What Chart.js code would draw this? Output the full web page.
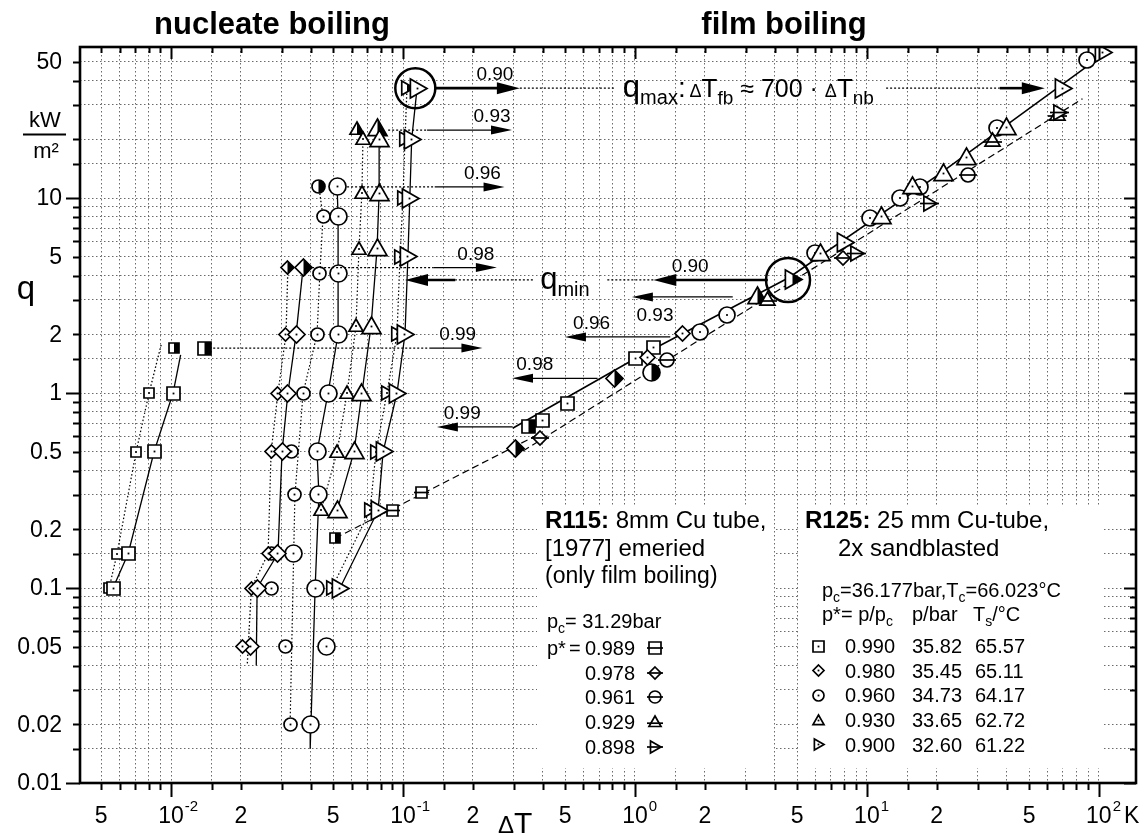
<!DOCTYPE html>
<html>
<head>
<meta charset="utf-8">
<title>R115 / R125 pool boiling</title>
<script src="https://cdn.jsdelivr.net/npm/chart.js@4.4.1/dist/chart.umd.min.js"></script>
<style>
  body { margin: 0; background: #fff; }
  #box { width: 1145px; height: 836px; }
</style>
</head>
<body>
<div id="box"><canvas id="chart"></canvas></div>
<script>
const FONT = '"Liberation Sans", Arial, sans-serif';

// axes (log-log)
const xMin = 0.00405, xMax = 144.6;
const yMin = 0.01, yMax = 59.5;
const decades = [0.001, 0.01, 0.1, 1, 10, 100];
const gridMult = [1, 1.5, 2, 3, 4, 5, 6, 7, 8, 9];
const xLabelVals = [0.005, 0.01, 0.02, 0.05, 0.1, 0.2, 0.5, 1, 2, 5, 10, 20, 50, 100];
const xLabelText = ['5', '10^-2', '2', '5', '10^-1', '2', '5', '10^0', '2', '5', '10^1', '2', '5', '10^2'];
const yLabelVals = [0.01, 0.02, 0.05, 0.1, 0.2, 0.5, 1, 2, 5, 10, 50];
const yLabelText = ['0.01', '0.02', '0.05', '0.1', '0.2', '0.5', '1', '2', '5', '10', '50'];

// nucleate boiling R125: runs on solid lines (large symbols) and dotted lines (small symbols)
const sqSolidDT = [0.00562, 0.00653, 0.00845, 0.0102];
const sqSolidQ = [0.1, 0.15, 0.5, 1.0];
const sqDotDT = [0.00541, 0.00585, 0.00707, 0.00804];
const sqDotQ = [0.1, 0.15, 0.5, 1.0];
const diaSolidDT = [0.0235, 0.0289, 0.0301, 0.0319, 0.0346];
const diaSolidQ = [0.1, 0.15, 0.5, 1, 2];
const diaDotDT = [0.0222, 0.0262, 0.0270, 0.0289, 0.0313];
const diaDotQ = [0.1, 0.15, 0.5, 1, 2];
const cirSolidDT = [0.0401, 0.0418, 0.0434, 0.0426, 0.0475, 0.0525, 0.0525, 0.0525, 0.0520];
const cirSolidQ = [0.02, 0.1, 0.3, 0.5, 1, 2, 4.1, 8, 11.4];
const cirDotDT = [0.0326, 0.0342, 0.0371, 0.0426, 0.0438, 0.0452];
const cirDotQ = [0.02, 0.3, 1, 2, 4.1, 8];
const triSolidDT = [0.0520, 0.0615, 0.0665, 0.0728, 0.0773, 0.0789, 0.0789];
const triSolidQ = [0.25, 0.5, 1, 2.2, 5.5, 10.6, 20];
const triDotDT = [0.0443, 0.0520, 0.0574, 0.0627, 0.0646, 0.0665, 0.0672];
const triDotQ = [0.25, 0.5, 1, 2.2, 5.5, 10.6, 20];
const rtSolidDT = [0.0535, 0.0781, 0.0821, 0.0942, 0.102, 0.105, 0.107, 0.109, 0.115];
const rtSolidQ = [0.1, 0.25, 0.5, 1, 2, 5, 10, 20, 36.6];
const rtDotDT = [0.0494, 0.0721, 0.0765, 0.0853, 0.0942, 0.0971, 0.100, 0.102];
const rtDotQ = [0.1, 0.25, 0.5, 1, 2, 5, 10, 20];

// nucleate points off the lines
const nbExtraDT = [0.0313, 0.0270, 0.0270, 0.0329, 0.0466, 0.0336, 0.0219, 0.0204];
const nbExtraQ = [0.05, 0.1, 0.15, 0.5, 0.05, 0.15, 0.05, 0.05];
const nbExtraShape = ['circle', 'circle', 'circle', 'circle', 'circle', 'circle', 'diamond', 'diamond'];
const nbExtraBig = [0, 0, 0, 0, 1, 1, 1, 0];

// half filled symbols (q_max / q_min points)
const halfDT = [0.0103, 0.0139, 0.0319, 0.0371, 0.0434, 0.0633, 0.0773, 0.104, 0.051, 0.346, 0.304, 0.82, 1.18, 3.36, 4.8];
const halfQ = [1.7, 1.7, 4.4, 4.4, 11.4, 22.6, 22.6, 36.6, 0.18, 0.67, 0.52, 1.19, 1.28, 3.11, 3.8];
const halfShape = ['square', 'square', 'diamond', 'diamond', 'circle', 'triangle', 'triangle', 'rtri',
  'square', 'square', 'diamond', 'diamond', 'circle', 'triangle', 'rtri'];
const halfBig = [0, 1, 0, 1, 0, 0, 1, 0, 0, 1, 1, 1, 1, 1, 1];

// film boiling R125
const fbDT = [0.401, 0.514, 1.01, 1.20, 1.13, 1.6, 1.91, 2.49, 5.97, 10.3, 13.9, 16.9, 36.3, 88.7,
  6.3, 11.6, 15.8, 21.3, 27, 39.8, 8.04, 70, 104];
const fbQ = [0.72, 0.88, 1.51, 1.72, 1.53, 2.03, 2.06, 2.51, 5.2, 7.9, 10, 11.4, 22.9, 51,
  5.2, 8.0, 11.4, 13.4, 16.2, 23.1, 5.94, 36.6, 55.5];
const fbShape = ['square', 'square', 'square', 'square', 'diamond', 'diamond',
  'circle', 'circle', 'circle', 'circle', 'circle', 'circle', 'circle', 'circle',
  'triangle', 'triangle', 'triangle', 'triangle', 'triangle', 'triangle', 'rtri', 'rtri', 'rtri'];

// film boiling R115 (8mm Cu tube)
const r115DT = [0.0897, 0.12, 0.39, 7.9, 1.37, 27.2, 3.71, 34.9, 66.5, 9.0, 18.7, 68];
const r115Q = [0.25, 0.31, 0.59, 4.9, 1.47, 13.1, 3.0, 19.8, 26.7, 5.2, 9.4, 27.3];
const r115Shape = ['square', 'square', 'diamond', 'diamond', 'circle', 'circle',
  'triangle', 'triangle', 'triangle', 'rtri', 'rtri', 'rtri'];

// film boiling curves
const filmLineDT = [0.297, 1.0, 4.6, 20, 111];
const filmLineQ = [0.66, 1.5, 3.9, 13, 57.4];
const r115LineDT = [0.3, 85];
const r115LineQ = [0.47, 32.3];

// short line pieces (ends of nucleate runs, lower R115 branch)
const segDT0 = [0.0102, 0.00804, 0.0235, 0.0222, 0.0346, 0.0313, 0.0401, 0.0452, 0.0789, 0.0672, 0.102, 0.051];
const segQ0 = [1.0, 1.0, 0.1, 0.1, 2, 2, 0.02, 8, 20, 20, 20, 0.18];
const segDT1 = [0.0110, 0.0091, 0.0233, 0.0213, 0.0371, 0.0319, 0.0398, 0.0434, 0.0773, 0.0633, 0.104, 0.39];
const segQ1 = [1.57, 1.8, 0.04, 0.04, 4.4, 4.4, 0.015, 11.4, 22.6, 22.6, 36.6, 0.62];
const segKind = ['s', 'd', 's', 'd', 's', 'd', 's', 'd', 's', 'd', 'd', 'h'];

// transition arrows
const arrowLabels = ['0.90', '0.93', '0.96', '0.98', '0.99'];
const qmaxQ = [36.6, 22.3, 11.4, 4.4, 1.7];
const qmaxFrom = [0.137, 0.127, 0.137, 0.135, 0.130];
const qmaxTo = [0.319, 0.295, 0.274, 0.254, 0.220];
const qmaxLead = [0, 0.0789, 0.0525, 0.0371, 0.0139];
const qmaxLabelX = [0.249, 0.242, 0.22, 0.206, 0.172];
const qminQ = [3.8, 3.11, 1.94, 1.19, 0.67];
const qminFrom = [3.74, 2.64, 1.42, 0.69, 0.297];
const qminTo = [1.2, 0.97, 0.499, 0.295, 0.14];
const qminLabelX = [1.73, 1.22, 0.65, 0.37, 0.18];
const ringDT = [0.113, 4.57];
const ringQ = [36.6, 3.8];

// legend tables
const r115Pstar = ['0.989', '0.978', '0.961', '0.929', '0.898'];
const r125Pstar = ['0.990', '0.980', '0.960', '0.930', '0.900'];
const r125P = ['35.82', '35.45', '34.73', '33.65', '32.60'];
const r125Ts = ['65.57', '65.11', '64.17', '62.72', '61.22'];
const legendShapes = ['square', 'diamond', 'circle', 'triangle', 'rtri'];

const gridVals = (lo, hi) => decades.flatMap(d => gridMult.map(m => +(m * d).toPrecision(3)))
  .filter(v => v >= lo && v <= hi);
const xGrid = gridVals(xMin, xMax);
const yGrid = gridVals(yMin, yMax);

// symbols drawn into small canvases
const SIZE_L = { square: 13, diamond: 17, circle: 17, triangle: 19, rtri: 19 };
const SIZE_S = { square: 10, diamond: 13, circle: 13, triangle: 14, rtri: 14 };
const SIZE_F = { square: 13, diamond: 15, circle: 16, triangle: 19, rtri: 19 };
const cache = {};
function marker(shape, s, mode) {
  const key = shape + s + mode;
  if (cache[key]) return cache[key];
  const c = document.createElement('canvas');
  const n = Math.ceil(s) + 6;
  c.width = c.height = n;
  const g = c.getContext('2d');
  const h = s / 2;
  g.translate(n / 2, n / 2);
  g.beginPath();
  if (shape === 'square') g.rect(-h, -h, s, s);
  else if (shape === 'circle') g.arc(0, 0, h, 0, Math.PI * 2);
  else if (shape === 'diamond') { g.moveTo(0, -h); g.lineTo(h, 0); g.lineTo(0, h); g.lineTo(-h, 0); g.closePath(); }
  else if (shape === 'triangle') { g.moveTo(0, -h); g.lineTo(h, h * 0.75); g.lineTo(-h, h * 0.75); g.closePath(); }
  else { g.moveTo(h, 0); g.lineTo(-h * 0.75, -h); g.lineTo(-h * 0.75, h); g.closePath(); }
  g.fillStyle = '#fff';
  g.fill();
  if (mode === 'half') {
    g.save(); g.clip(); g.fillStyle = '#000'; g.fillRect(0, -h - 2, h + 2, s + 4); g.restore();
  }
  g.lineWidth = 1.7;
  g.strokeStyle = '#000';
  g.stroke();
  if (mode === 'open') { g.fillStyle = '#000'; g.fillRect(-0.9, -0.9, 1.8, 1.8); }
  if (mode === 'line') {
    const ly = shape === 'triangle' ? h * 0.2 : 0;
    g.beginPath(); g.moveTo(-h - 2, ly); g.lineTo(h + 2, ly); g.stroke();
  }
  cache[key] = c;
  return c;
}

const pts = (xs, ys) => xs.map((x, i) => ({ x, y: ys[i] }));
const lineSet = (data, dash, lw) => ({
  data, showLine: true, borderColor: '#000', borderWidth: lw, borderDash: dash,
  pointRadius: 0, order: 2
});
const markSet = (data, style) => ({ data, showLine: false, pointStyle: style, pointRadius: 6, order: 1 });

const DOT = [1.5, 2.2], DASH = [7, 4];
const datasets = [];
const runs = [
  ['square', sqSolidDT, sqSolidQ, sqDotDT, sqDotQ],
  ['diamond', diaSolidDT, diaSolidQ, diaDotDT, diaDotQ],
  ['circle', cirSolidDT, cirSolidQ, cirDotDT, cirDotQ],
  ['triangle', triSolidDT, triSolidQ, triDotDT, triDotQ],
  ['rtri', rtSolidDT, rtSolidQ, rtDotDT, rtDotQ]
];
runs.forEach(([shape, sx, sy, dx, dy]) => {
  datasets.push(lineSet(pts(sx, sy), [], 1.3));
  datasets.push(lineSet(pts(dx, dy), DOT, 1.2));
  datasets.push(markSet(pts(sx, sy), marker(shape, SIZE_L[shape], 'open')));
  datasets.push(markSet(pts(dx, dy), marker(shape, SIZE_S[shape], 'open')));
});
segKind.forEach((k, i) => {
  datasets.push(lineSet([{ x: segDT0[i], y: segQ0[i] }, { x: segDT1[i], y: segQ1[i] }],
    k === 's' ? [] : k === 'd' ? DOT : DASH, k === 'h' ? 1.2 : 1.3));
});
datasets.push(lineSet(pts(filmLineDT, filmLineQ), [], 1.6));
datasets.push(lineSet(pts(r115LineDT, r115LineQ), DASH, 1.2));
datasets.push(markSet(pts(nbExtraDT, nbExtraQ), c => {
  const i = c.dataIndex || 0, sh = nbExtraShape[i];
  return marker(sh, nbExtraBig[i] ? SIZE_L[sh] : SIZE_S[sh], 'open');
}));
datasets.push(markSet(pts(r115DT, r115Q), c => {
  const sh = r115Shape[c.dataIndex || 0];
  return marker(sh, SIZE_S[sh] + 1, 'line');
}));
datasets.push(markSet(pts(fbDT, fbQ), c => {
  const sh = fbShape[c.dataIndex || 0];
  return marker(sh, SIZE_F[sh], 'open');
}));
datasets.push(markSet(pts(halfDT, halfQ), c => {
  const i = c.dataIndex || 0, sh = halfShape[i];
  return marker(sh, halfBig[i] ? SIZE_L[sh] : SIZE_S[sh], 'half');
}));

// text helper: parts = [text, size, dy, bold]
function seq(ctx, x, y, parts, align) {
  let w = 0;
  parts.forEach(p => {
    ctx.font = (p[3] ? 'bold ' : '') + p[1] + 'px ' + FONT;
    p.w = ctx.measureText(p[0]).width;
    w += p.w;
  });
  let cx = align === 'center' ? x - w / 2 : align === 'right' ? x - w : x;
  ctx.textAlign = 'left';
  ctx.textBaseline = 'alphabetic';
  parts.forEach(p => {
    ctx.font = (p[3] ? 'bold ' : '') + p[1] + 'px ' + FONT;
    ctx.fillText(p[0], cx, y + (p[2] || 0));
    cx += p.w;
  });
}
function arrow(ctx, x0, y, x1, lw) {
  const dir = Math.sign(x1 - x0), L = lw > 2 ? 23 : 21, W = lw > 2 ? 6 : 4.5;
  ctx.setLineDash([]);
  ctx.lineWidth = lw;
  ctx.beginPath(); ctx.moveTo(x0, y); ctx.lineTo(x1 - dir * L * 0.8, y); ctx.stroke();
  ctx.beginPath(); ctx.moveTo(x1, y); ctx.lineTo(x1 - dir * L, y - W); ctx.lineTo(x1 - dir * L, y + W);
  ctx.closePath(); ctx.fill();
}
function dotted(ctx, x0, y, x1) {
  ctx.setLineDash([2, 2]);
  ctx.lineWidth = 1.2;
  ctx.beginPath(); ctx.moveTo(x0, y); ctx.lineTo(x1, y); ctx.stroke();
  ctx.setLineDash([]);
}

const deco = {
  id: 'deco',
  beforeDatasetsDraw(chart) {
    const ctx = chart.ctx;
    ctx.save();
    ctx.fillStyle = '#fff';
    ctx.fillRect(537, 507, 237, 261);
    ctx.fillRect(800, 507, 304, 261);
    ctx.restore();
    ctx.imageSmoothingEnabled = false;
  },
  afterDatasetsDraw(chart) {
    const { ctx, scales: { x, y } } = chart;
    const X = v => x.getPixelForValue(v), Y = v => y.getPixelForValue(v);
    ctx.save();
    ctx.strokeStyle = '#000';
    ctx.fillStyle = '#000';
    ringDT.forEach((d, i) => {
      ctx.lineWidth = 2.5;
      ctx.beginPath(); ctx.arc(X(d), Y(ringQ[i]), i ? 22 : 20, 0, Math.PI * 2); ctx.stroke();
    });
    // q_max (nucleate -> film)
    qmaxQ.forEach((q, i) => {
      const yy = Y(q);
      if (qmaxLead[i]) dotted(ctx, X(qmaxLead[i]) + 9, yy, X(qmaxFrom[i]));
      arrow(ctx, X(qmaxFrom[i]), yy, X(qmaxTo[i]), i === 0 ? 2.6 : 1.3);
      seq(ctx, X(qmaxLabelX[i]), yy - 8, [[arrowLabels[i], 19]], 'center');
    });
    const y0 = Y(qmaxQ[0]);
    dotted(ctx, X(0.319), y0, X(0.82));
    seq(ctx, X(0.887), y0 + 9, [['q', 31], ['max', 20, 7], [':', 28], [' ', 14], ['\u0394', 18], ['T', 26],
      ['fb', 19, 7], [' \u2248 700 \u00b7 ', 25], ['\u0394', 18], ['T', 26], ['nb', 19, 7]]);
    dotted(ctx, X(12.1), y0, X(37.4));
    arrow(ctx, X(37.4), y0, X(58.5), 2.6);
    // q_min (film -> nucleate)
    qminQ.forEach((q, i) => {
      const yy = Y(q);
      arrow(ctx, X(qminFrom[i]), yy, X(qminTo[i]), i === 0 ? 2.6 : 1.3);
      seq(ctx, X(qminLabelX[i]), i === 1 ? yy + 24 : yy - 8, [[arrowLabels[i], 19]], 'center');
    });
    const y1 = Y(qminQ[0]);
    dotted(ctx, X(1.2), y1, X(0.757));
    seq(ctx, X(0.499), y1 + 9, [['q', 31], ['min', 20, 7]], 'center');
    dotted(ctx, X(0.363), y1, X(0.168));
    arrow(ctx, X(0.168), y1, X(0.102), 2.6);

    // legend: R115
    ctx.fillStyle = '#000';
    seq(ctx, 545, 528, [['R115:', 24, 0, 1], [' 8mm Cu tube,', 24]]);
    seq(ctx, 545, 556, [['[1977] emeried', 24]]);
    seq(ctx, 545, 583, [['(only film boiling)', 23]]);
    seq(ctx, 547, 628, [['p', 20], ['c', 14, 5], ['= 31.29bar', 20]]);
    seq(ctx, 547, 655, [['p*', 20]]);
    seq(ctx, 569, 655, [['=', 20]]);
    r115Pstar.forEach((t, i) => {
      const by = 655 + 24.7 * i;
      seq(ctx, 635, by, [[t, 20]], 'right');
      const m = marker(legendShapes[i], 12, 'line');
      ctx.drawImage(m, Math.round(655 - m.width / 2), Math.round(by - 7 - m.height / 2));
    });
    // legend: R125
    seq(ctx, 805, 528, [['R125:', 24, 0, 1], [' 25 mm Cu-tube,', 24]]);
    seq(ctx, 838, 556, [['2x sandblasted', 24]]);
    seq(ctx, 822, 597, [['p', 20], ['c', 14, 5], ['=36.177bar,T', 20], ['c', 14, 5], ['=66.023\u00b0C', 20]]);
    seq(ctx, 822, 621, [['p*= p/p', 20], ['c', 14, 5]]);
    seq(ctx, 912, 621, [['p/bar', 20]]);
    seq(ctx, 973, 621, [['T', 20], ['s', 14, 5], ['/\u00b0C', 20]]);
    r125Pstar.forEach((t, i) => {
      const by = 653 + 24.7 * i;
      const m = marker(legendShapes[i], 11, 'open');
      ctx.drawImage(m, Math.round(818 - m.width / 2), Math.round(by - 7 - m.height / 2));
      seq(ctx, 845, by, [[t, 20]]);
      seq(ctx, 912, by, [[r125P[i], 20]]);
      seq(ctx, 975, by, [[r125Ts[i], 20]]);
    });
    ctx.restore();
  },
  afterDraw(chart) {
    const { ctx, chartArea: a, scales: { x, y } } = chart;
    ctx.save();
    ctx.strokeStyle = '#000';
    ctx.fillStyle = '#000';
    ctx.setLineDash([]);
    ctx.lineWidth = 2;
    xGrid.forEach(v => {
      const px = Math.round(x.getPixelForValue(v)) + 0.5, major = decades.includes(v);
      ctx.beginPath();
      ctx.moveTo(px, a.bottom); ctx.lineTo(px, a.bottom + (major ? 14 : 7));
      ctx.moveTo(px, a.top); ctx.lineTo(px, a.top + (major ? 12 : 6));
      ctx.stroke();
    });
    yGrid.forEach(v => {
      const py = Math.round(y.getPixelForValue(v)) + 0.5, major = decades.includes(v);
      ctx.beginPath();
      ctx.moveTo(a.left, py); ctx.lineTo(a.left - (major ? 14 : 7), py);
      ctx.moveTo(a.right, py); ctx.lineTo(a.right - (major ? 12 : 6), py);
      ctx.stroke();
    });
    ctx.lineWidth = 2.6;
    ctx.strokeRect(a.left, a.top, a.right - a.left, a.bottom - a.top);

    // x tick labels
    xLabelVals.forEach((v, i) => {
      const px = x.getPixelForValue(v), t = xLabelText[i];
      if (t.includes('^')) {
        const [b, s] = t.split('^');
        ctx.font = '23px ' + FONT;
        const w = ctx.measureText(b).width;
        ctx.textAlign = 'center';
        ctx.fillText(b, px, 823);
        ctx.textAlign = 'left';
        ctx.font = '15px ' + FONT;
        ctx.fillText(s, px + w / 2 + 1, 811);
      } else {
        ctx.font = '23px ' + FONT;
        ctx.textAlign = 'center';
        ctx.fillText(t, px, 823);
      }
    });
    seq(ctx, 1124, 823, [['K', 23]]);
    seq(ctx, 498, 833, [['\u0394', 24], ['T', 30]]);
    // y tick labels
    ctx.font = '23px ' + FONT;
    ctx.textAlign = 'right';
    ctx.textBaseline = 'middle';
    yLabelVals.forEach((v, i) => ctx.fillText(yLabelText[i], 62, y.getPixelForValue(v) + 1));
    seq(ctx, 26, 299, [['q', 33]], 'center');
    seq(ctx, 45, 127, [['kW', 22]], 'center');
    ctx.lineWidth = 2;
    ctx.beginPath(); ctx.moveTo(23, 134.5); ctx.lineTo(66, 134.5); ctx.stroke();
    seq(ctx, 46, 158, [['m\u00b2', 22]], 'center');
    // titles
    seq(ctx, 272, 34, [['nucleate boiling', 31, 0, 1]], 'center');
    seq(ctx, 784, 34, [['film boiling', 31, 0, 1]], 'center');
    ctx.restore();
  }
};

const logAxis = (min, max, ticks, size) => ({
  type: 'logarithmic', min, max,
  afterBuildTicks: s => { s.ticks = ticks.map(v => ({ value: v })); },
  afterFit: s => size(s),
  ticks: { display: false },
  grid: { color: '#6a6a6a', lineWidth: 1, drawTicks: false },
  border: { display: false, dash: [1.5, 2.5] }
});

new Chart(document.getElementById('chart'), {
  type: 'scatter',
  data: { datasets },
  options: {
    responsive: true,
    maintainAspectRatio: false,
    animation: false,
    events: [],
    layout: { padding: { left: 0, top: 47, right: 9, bottom: 0 } },
    plugins: { legend: { display: false }, tooltip: { enabled: false } },
    scales: {
      x: logAxis(xMin, xMax, xGrid, s => { s.height = 53; }),
      y: logAxis(yMin, yMax, yGrid, s => { s.width = 80; })
    }
  },
  plugins: [deco]
});
</script>
</body>
</html>
